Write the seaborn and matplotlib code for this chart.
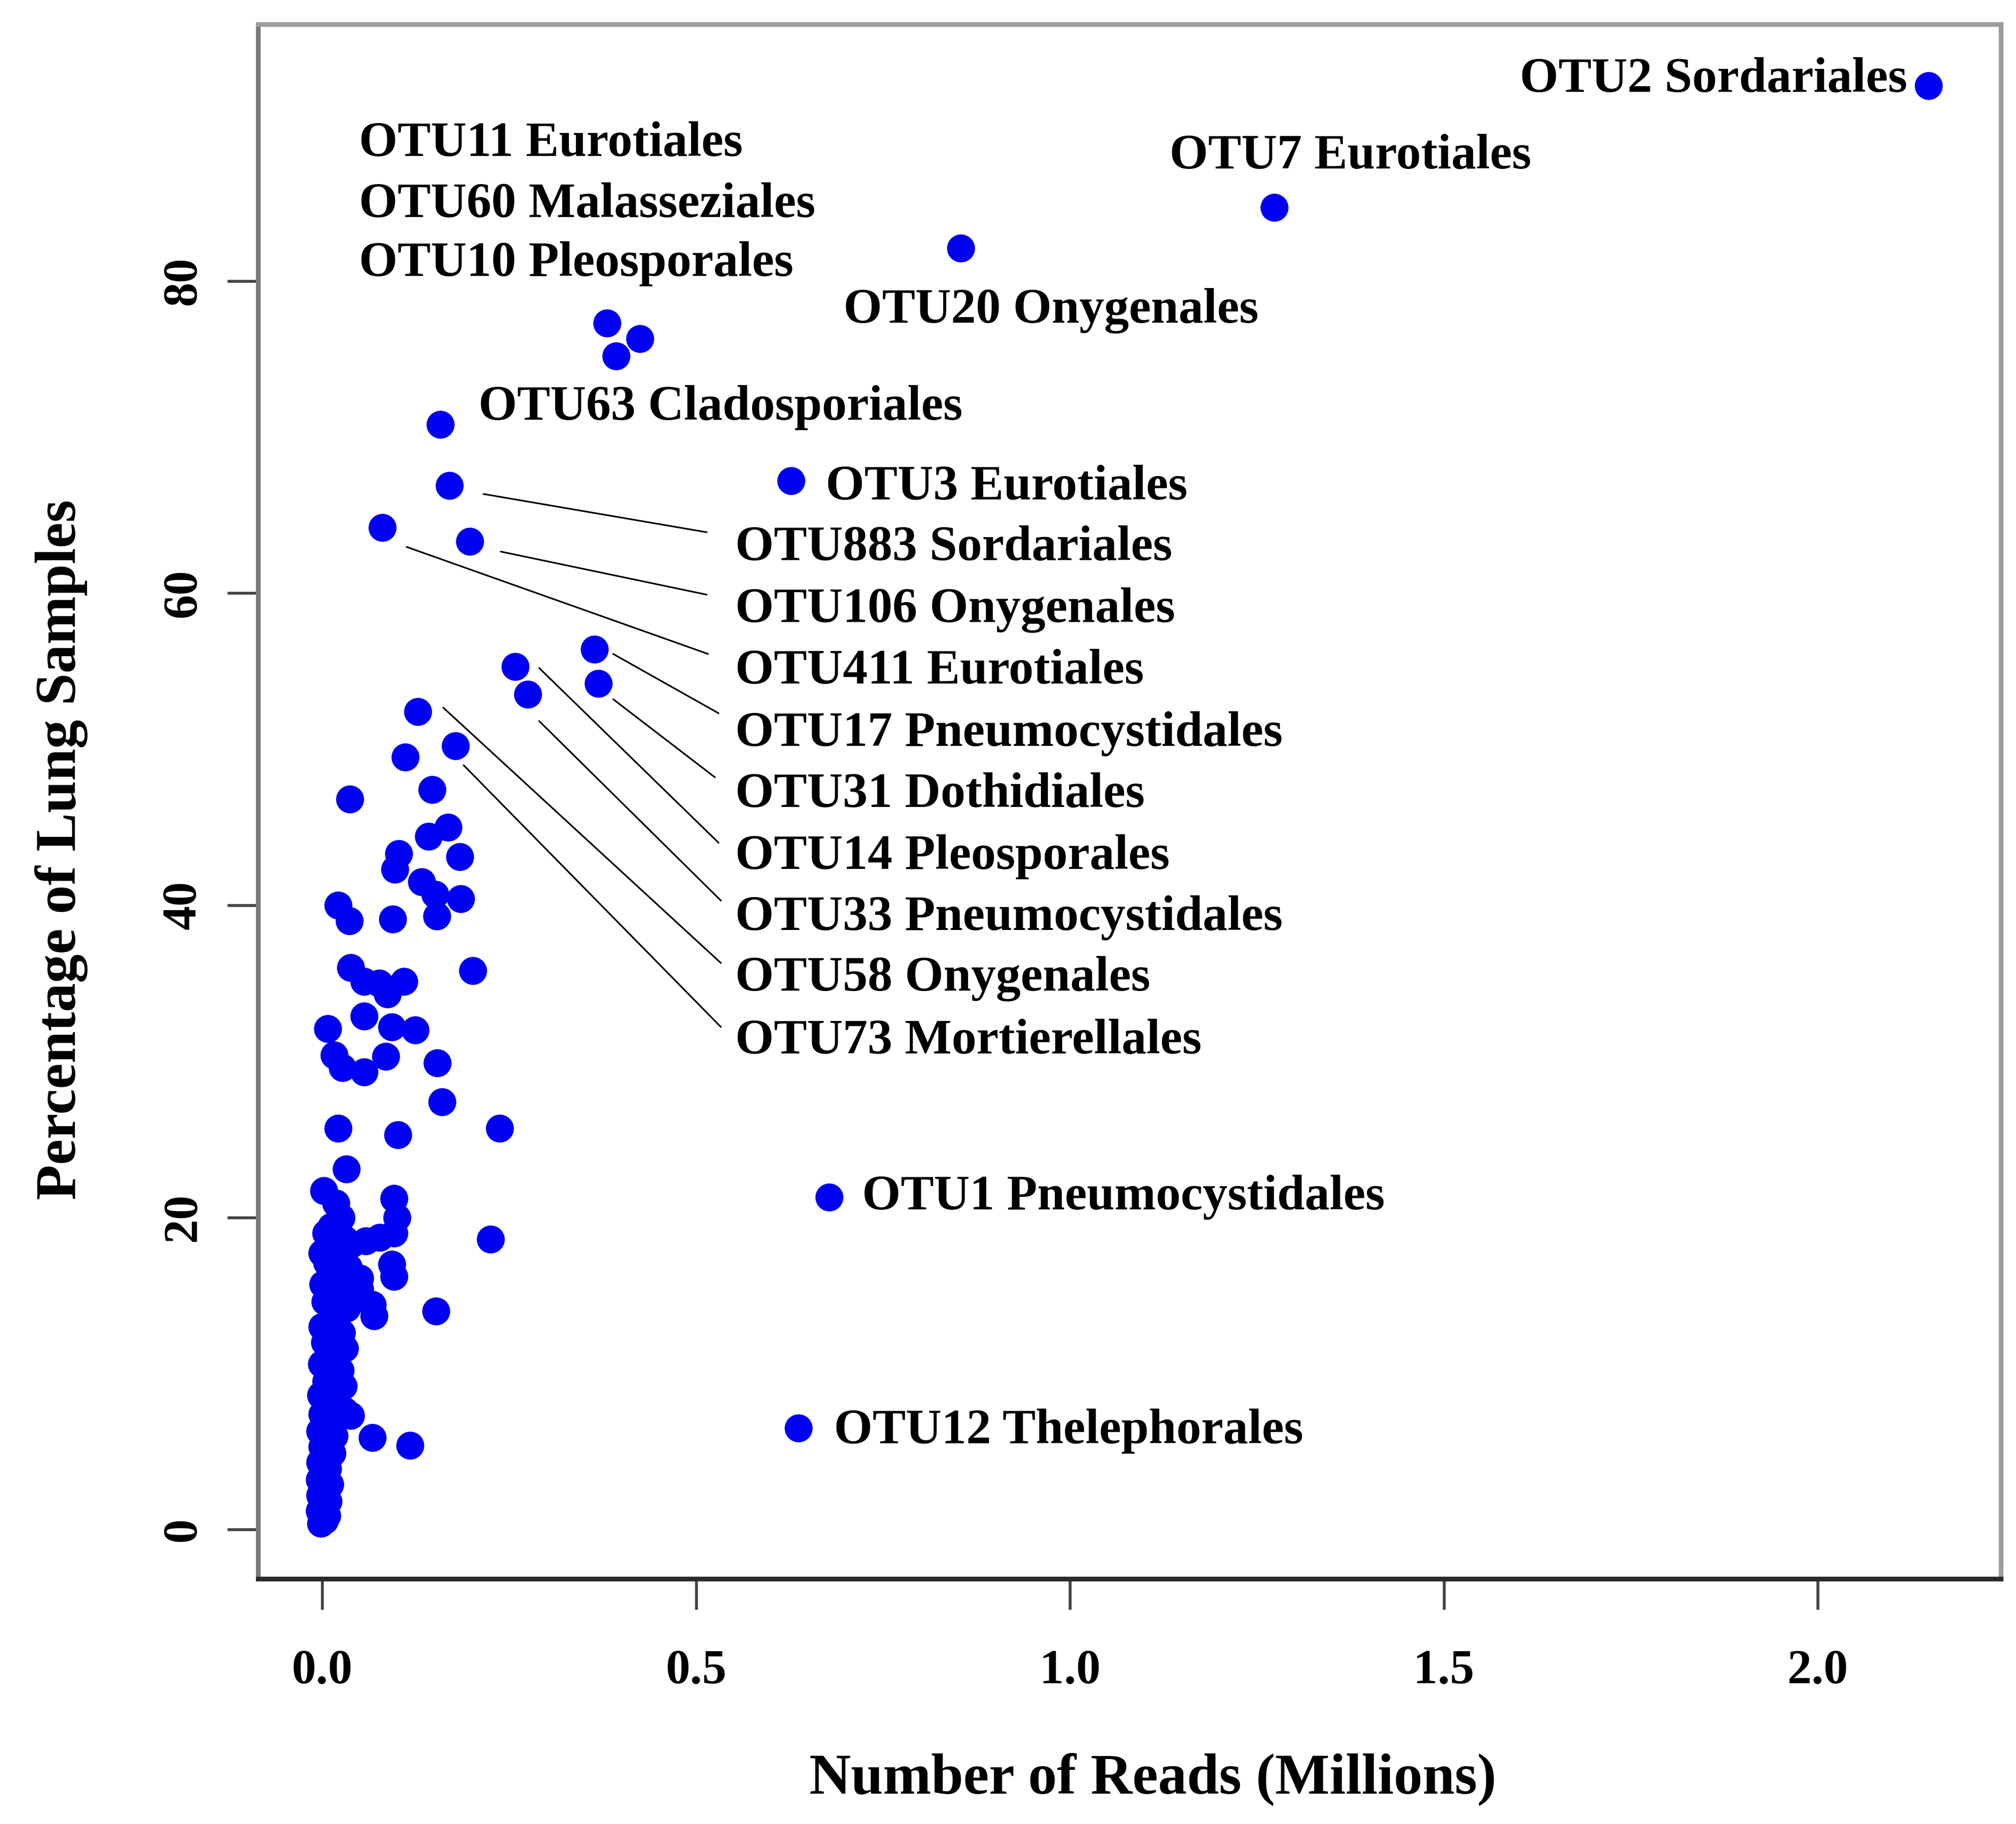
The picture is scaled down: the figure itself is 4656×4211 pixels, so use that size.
import matplotlib
matplotlib.use("Agg")
import matplotlib.pyplot as plt
import seaborn as sns
import pandas as pd

# ---------------- data ----------------
# labelled OTUs: reads (millions), % of lung samples
otu_names = ["OTU2 Sordariales", "OTU7 Eurotiales", "OTU20 Onygenales",
             "OTU11 Eurotiales", "OTU60 Malasseziales", "OTU10 Pleosporales",
             "OTU63 Cladosporiales", "OTU3 Eurotiales", "OTU883 Sordariales",
             "OTU106 Onygenales", "OTU411 Eurotiales", "OTU17 Pneumocystidales",
             "OTU31 Dothidiales", "OTU14 Pleosporales", "OTU33 Pneumocystidales",
             "OTU58 Onygenales", "OTU73 Mortierellales", "OTU1 Pneumocystidales",
             "OTU12 Thelephorales"]
otu_reads = [2.148, 1.273, 0.854, 0.381, 0.425, 0.393, 0.158, 0.627, 0.170,
             0.197, 0.080, 0.364, 0.369, 0.258, 0.275, 0.128, 0.178, 0.678, 0.637]
otu_pct = [92.5, 84.7, 82.1, 77.3, 76.3, 75.2, 70.8, 67.2, 66.9,
           63.3, 64.2, 56.4, 54.2, 55.3, 53.5, 52.4, 50.2, 21.3, 6.5]

# unlabelled OTUs
other_reads = [
    0.111, 0.147, 0.037, 0.168, 0.142, 0.184, 0.102, 0.097, 0.133, 0.151,
    0.185, 0.153, 0.021, 0.036, 0.094,
    0.038, 0.056, 0.076, 0.087, 0.109, 0.201, 0.056, 0.0075, 0.093, 0.124,
    0.016, 0.027, 0.056, 0.085, 0.154, 0.160, 0.021, 0.101, 0.237, 0.032,
    0.002, 0.018, 0.025, 0.012, 0.096, 0.100, 0.096, 0.077, 0.058, 0.039,
    0.000, 0.023, 0.093, 0.096, 0.050, 0.050, 0.067, 0.069, 0.225, 0.152,
    0.005, 0.030, 0.040, 0.067, 0.117,
    # dense column near zero
    -0.002, 0.003, 0.006, -0.004, 0.001, 0.008, -0.003, 0.004, 0.010, -0.004,
    0.002, 0.007, -0.003, 0.005, 0.013, 0.000, 0.009, 0.016, -0.003, 0.006,
    0.014, 0.038, 0.030, 0.022, 0.000, 0.010, -0.002, 0.018, 0.028, 0.005,
    0.014, 0.024, -0.001, 0.010, 0.020, 0.030, 0.003, 0.016, 0.026, 0.000,
    0.010, 0.022, 0.033, 0.004, 0.015, 0.028, 0.001, 0.012, 0.024, 0.035,
    0.006, 0.018]
other_pct = [
    49.5, 47.4, 46.8, 45.0, 44.4, 43.1, 43.3, 42.3, 41.5, 40.7,
    40.4, 39.3, 40.0, 39.0, 39.1,
    36.0, 35.1, 35.0, 34.3, 35.1, 35.8, 32.9, 32.1, 32.2, 32.0,
    30.4, 29.6, 29.3, 30.3, 29.9, 27.4, 25.7, 25.3, 25.7, 23.1,
    21.7, 20.9, 20.0, 19.4, 21.2, 20.0, 19.0, 18.7, 18.5, 18.3,
    17.7, 17.5, 17.0, 16.2, 16.1, 15.4, 14.4, 13.7, 18.6, 14.0,
    19.0, 18.6, 15.0, 5.9, 5.4,
    0.4, 0.6, 0.9, 1.2, 1.5, 1.8, 2.2, 2.5, 2.9, 3.2,
    3.6, 3.9, 4.3, 4.6, 4.9, 5.3, 5.6, 6.0, 6.3, 6.6,
    6.9, 7.3, 7.6, 7.9, 7.4, 8.2, 8.6, 8.8, 9.2, 9.5,
    9.9, 10.2, 10.6, 10.9, 11.3, 11.6, 12.0, 12.3, 12.6, 13.0,
    13.4, 13.8, 14.2, 14.6, 15.0, 15.3, 15.7, 16.1, 16.4, 16.8,
    17.1, 16.6]

# label placement (data coords): text anchor and alignment
label_x = [2.120, 1.133, 0.697, 0.049, 0.049, 0.049, 0.209, 0.673, 0.552,
           0.552, 0.552, 0.552, 0.552, 0.552, 0.552, 0.552, 0.552, 0.722, 0.684]
label_y = [92.9, 88.0, 78.1, 88.8, 84.9, 81.1, 71.9, 66.8, 62.9,
           58.9, 55.0, 51.0, 47.1, 43.1, 39.2, 35.3, 31.3, 21.3, 6.3]
label_ha = ["right"] + ["left"] * 18

# leader lines: (x0, y0, x1, y1)
leader_lines = [
    (0.2155, 66.35, 0.514, 63.9),   # OTU883
    (0.2386, 62.66, 0.514, 59.9),   # OTU106
    (0.1126, 62.96, 0.516, 56.1),   # OTU411
    (0.389, 56.1, 0.530, 52.3),     # OTU17
    (0.389, 53.2, 0.525, 48.2),     # OTU31
    (0.290, 55.2, 0.530, 44.0),     # OTU14
    (0.290, 51.8, 0.533, 40.3),     # OTU33
    (0.1617, 52.66, 0.533, 36.3),   # OTU58
    (0.189, 48.97, 0.533, 32.2),    # OTU73
]

x_ticks = [0.0, 0.5, 1.0, 1.5, 2.0]
x_ticklabels = ["0.0", "0.5", "1.0", "1.5", "2.0"]
y_ticks = [0, 20, 40, 60, 80]
y_ticklabels = ["0", "20", "40", "60", "80"]

# ---------------- plot ----------------
sns.set_style("white")
plt.rcParams["font.family"] = ["Liberation Serif", "DejaVu Serif"]
plt.rcParams["font.weight"] = "bold"
plt.rcParams["text.color"] = "black"
plt.rcParams["axes.labelcolor"] = "black"
plt.rcParams["xtick.labelcolor"] = "black"
plt.rcParams["ytick.labelcolor"] = "black"

df = pd.DataFrame({
    "reads": otu_reads + other_reads,
    "pct": otu_pct + other_pct,
})

fig = plt.figure(figsize=(15.52, 14.037), dpi=300)
ax = fig.add_axes([0.128, 0.1344, 0.9925 - 0.128, 0.9867 - 0.1344])

sns.scatterplot(data=df, x="reads", y="pct", ax=ax, color="#0000f2",
                s=240, linewidth=0, alpha=1.0, zorder=3)

for (x0, y0, x1, y1) in leader_lines:
    ax.plot([x0, x1], [y0, y1], color="black", lw=0.9, zorder=2)

for name, tx, ty, ha in zip(otu_names, label_x, label_y, label_ha):
    ax.text(tx, ty, name, ha=ha, va="center", fontsize=27.5,
            fontweight="bold", color="black", zorder=4)

ax.set_xlim(-0.086, 2.245)
ax.set_ylim(-3.16, 96.45)
ax.set_xticks(x_ticks)
ax.set_xticklabels(x_ticklabels, fontsize=27, fontweight="bold", color="black")
ax.set_yticks(y_ticks)
ax.set_yticklabels(y_ticklabels, fontsize=27, fontweight="bold",
                   rotation=90, va="center", color="black")

ax.tick_params(axis="x", direction="out", length=17, width=1.6,
               color="#444444", labelcolor="black", pad=22, bottom=True)
ax.tick_params(axis="y", direction="out", length=17, width=1.6,
               color="#444444", labelcolor="black", pad=12, left=True)

ax.set_xlabel("Number of Reads (Millions)", fontsize=32, fontweight="bold",
              va="center", color="black")
ax.set_ylabel("Percentage of Lung Samples", fontsize=32, fontweight="bold",
              va="center", color="black")
ax.xaxis.set_label_coords(0.5135, -0.129)
ax.yaxis.set_label_coords(-0.113, 0.469)

for side, col in [("top", "#9c9c9c"), ("left", "#7a7a7a"),
                  ("right", "#9c9c9c"), ("bottom", "#2a2a2a")]:
    ax.spines[side].set_visible(True)
    ax.spines[side].set_color(col)
    ax.spines[side].set_linewidth(2.6)

fig.savefig("out.png", dpi=300, facecolor="white")
